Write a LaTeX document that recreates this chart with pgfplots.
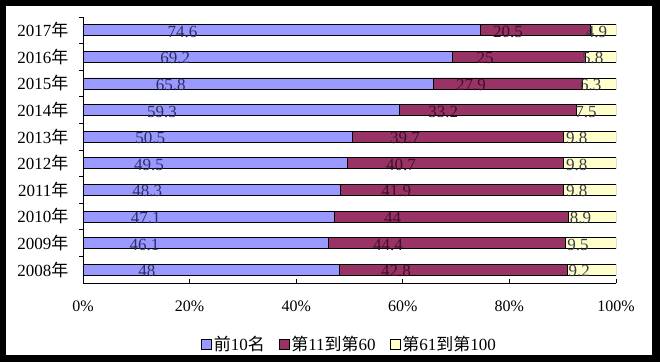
\documentclass[border=0pt]{standalone}
\usepackage{pgfplots}
\pgfplotsset{compat=1.18}
\usepackage{pgfplotstable}
\usepackage{fontspec}
\setmainfont{Liberation Serif}
\newfontfamily\cjk{Noto Sans CJK SC}
\definecolor{cA}{HTML}{9999FF}
\definecolor{cB}{HTML}{993366}
\definecolor{cC}{HTML}{FFFFCC}
\definecolor{lA}{HTML}{2E2E66}
\definecolor{lB}{HTML}{3F0F2A}
\definecolor{lC}{HTML}{3A3A48}
\pgfplotstableread{
y v1 v2 v3
0 48 42.8 9.2
1 46.1 44.4 9.5
2 47.1 44 8.9
3 48.3 41.9 9.8
4 49.5 40.7 9.8
5 50.5 39.7 9.8
6 59.3 33.2 7.5
7 65.8 27.9 6.3
8 69.2 25 5.8
9 74.6 20.5 4.9
}\datatab
\pgfplotsset{
  myleg/.style={legend image code/.code={\draw[##1,draw=black,line width=0.6pt] (0pt,-5pt) rectangle (10pt,5pt);}},
}
\begin{document}
\begin{tikzpicture}[x=1pt,y=1pt,font=\fontsize{16pt}{19pt}\selectfont]
\fill[black] (0,0) rectangle (660,362);
\fill[white] (6,7) rectangle (652,356);
\begin{axis}[
  at={(83pt,79pt)}, anchor=south west,
  scale only axis, width=533pt, height=266pt,
  xbar stacked, bar width=11pt,
  xmin=0, xmax=100, ymin=-0.5, ymax=9.5,
  axis lines*=left,
  axis line style={black, line width=0.8pt},
  /pgf/number format/assume math mode=true,
  xtick={0,20,40,60,80,100},
  xticklabel={\pgfmathprintnumber{\tick}\%},
  ytick={0.5,1.5,...,9.5},
  yticklabels={2008{\cjk 年},2009{\cjk 年},2010{\cjk 年},2011{\cjk 年},2012{\cjk 年},2013{\cjk 年},2014{\cjk 年},2015{\cjk 年},2016{\cjk 年},2017{\cjk 年}},
  y tick label style={yshift=-13.3pt, xshift=-7pt, font=\fontsize{17pt}{20pt}\selectfont},
  x tick label style={yshift=-14pt, font=\fontsize{16pt}{19pt}\selectfont},
  xtick align=inside, ytick align=outside,
  major tick length=4pt,
  tick style={black, line width=0.8pt},
  legend columns=3,
  legend style={at={(0.5,-0.2293)}, anchor=center, draw=none, fill=none,
    font=\fontsize{17pt}{20pt}\selectfont,
    /tikz/every even column/.append style={column sep=12pt}},
  legend cell align=left,
  point meta=explicit,
  nodes near coords={\pgfmathprintnumber{\pgfplotspointmeta}},
  every node near coord/.append style={font=\fontsize{17pt}{20pt}\selectfont, yshift=-1.5pt},
]
\addplot[myleg, fill=cA, draw=black, line width=0.6pt,
  visualization depends on={\thisrow{v1} \as \val},
  every node near coord/.append style={anchor=center, xshift={-1.3325*\val}, text=lA}]
  table[x=v1, y=y, meta=v1] {\datatab};
\addlegendentry{{\cjk 前}10{\cjk 名}}
\addplot[myleg, fill=cB, draw=black, line width=0.6pt,
  visualization depends on={\thisrow{v2} \as \val},
  every node near coord/.append style={anchor=center, xshift={-1.3325*\val}, text=lB}]
  table[x=v2, y=y, meta=v2] {\datatab};
\addlegendentry{{\cjk 第}11{\cjk 到第}60}
\addplot[myleg, fill=cC, draw=black, line width=0.6pt,
  visualization depends on={\thisrow{v3} \as \val},
  every node near coord/.append style={anchor=center, xshift={-1.3325*\val}, text=lC}]
  table[x=v3, y=y, meta=v3] {\datatab};
\addlegendentry{{\cjk 第}61{\cjk 到第}100}
\end{axis}
\end{tikzpicture}
\end{document}
